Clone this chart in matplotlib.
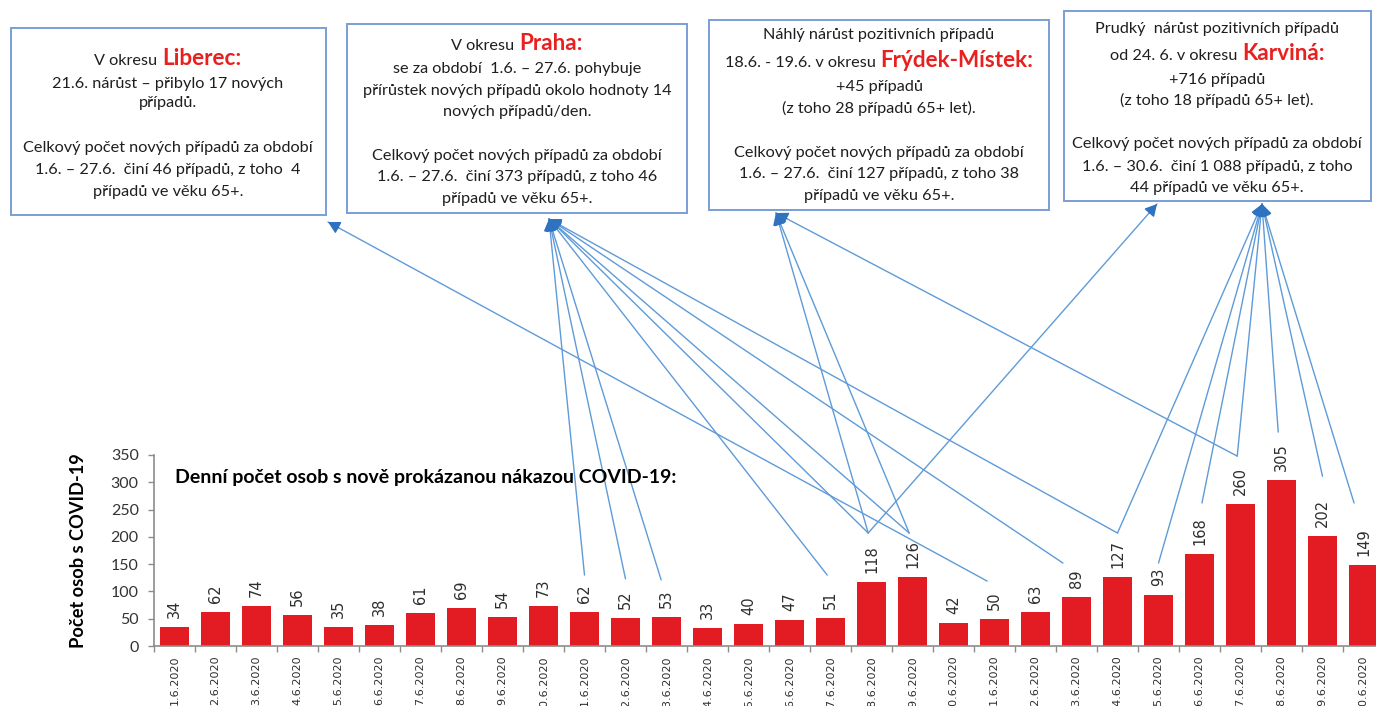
import matplotlib
matplotlib.use("Agg")
import matplotlib.pyplot as plt
import matplotlib.transforms as mtransforms
from matplotlib.patches import Rectangle
import numpy as np

# ---------------------------------------------------------------- data
days = ["1.6.2020", "2.6.2020", "3.6.2020", "4.6.2020", "5.6.2020", "6.6.2020",
        "7.6.2020", "8.6.2020", "9.6.2020", "10.6.2020", "11.6.2020", "12.6.2020",
        "13.6.2020", "14.6.2020", "15.6.2020", "16.6.2020", "17.6.2020", "18.6.2020",
        "19.6.2020", "20.6.2020", "21.6.2020", "22.6.2020", "23.6.2020", "24.6.2020",
        "25.6.2020", "26.6.2020", "27.6.2020", "28.6.2020", "29.6.2020", "30.6.2020"]
cases = [34, 62, 74, 56, 35, 38, 61, 69, 54, 73, 62, 52, 53, 33, 40,
         47, 51, 118, 126, 42, 50, 63, 89, 127, 93, 168, 260, 305, 202, 149]
y_ticks = [0, 50, 100, 150, 200, 250, 300, 350]

title = "Denní počet osob s nově prokázanou nákazou COVID-19:"
y_label = "Počet osob s COVID-19"

# district callouts: list of lines, each line a list of (text, is_district)
liberec_lines = [
    [("V okresu", False), ("Liberec:", True)],
    [("21.6. nárůst – přibylo 17 nových", False)],
    [("případů.", False)],
    [("Celkový počet nových případů za období", False)],
    [("1.6. – 27.6.  činí 46 případů, z toho  4", False)],
    [("případů ve věku 65+.", False)],
]
praha_lines = [
    [("V okresu", False), ("Praha:", True)],
    [("se za období  1.6. – 27.6. pohybuje", False)],
    [("přírůstek nových případů okolo hodnoty 14", False)],
    [("nových případů/den.", False)],
    [("Celkový počet nových případů za období", False)],
    [("1.6. – 27.6.  činí 373 případů, z toho 46", False)],
    [("případů ve věku 65+.", False)],
]
frydek_lines = [
    [("Náhlý nárůst pozitivních případů", False)],
    [("18.6. - 19.6. v okresu", False), ("Frýdek-Místek:", True)],
    [("+45 případů", False)],
    [("(z toho 28 případů 65+ let).", False)],
    [("Celkový počet nových případů za období", False)],
    [("1.6. – 27.6.  činí 127 případů, z toho 38", False)],
    [("případů ve věku 65+.", False)],
]
karvina_lines = [
    [("Prudký  nárůst pozitivních případů", False)],
    [("od 24. 6. v okresu", False), ("Karviná:", True)],
    [("+716 případů", False)],
    [("(z toho 18 případů 65+ let).", False)],
    [("Celkový počet nových případů za období", False)],
    [("1.6. – 30.6.  činí 1 088 případů, z toho", False)],
    [("44 případů ve věku 65+.", False)],
]

# which days each callout points at
links = {
    "liberec": ["21.6.2020"],
    "praha": ["11.6.2020", "12.6.2020", "13.6.2020", "17.6.2020",
              "18.6.2020", "19.6.2020", "23.6.2020", "24.6.2020"],
    "frydek": ["18.6.2020", "19.6.2020", "27.6.2020"],
    "karvina_left": ["18.6.2020"],
    "karvina": ["24.6.2020", "25.6.2020", "26.6.2020", "27.6.2020",
                "28.6.2020", "29.6.2020", "30.6.2020"],
}

# ---------------------------------------------------------------- layout
W, H = 1376, 706
fig = plt.figure(figsize=(W / 100, H / 100), dpi=100)
fig.patch.set_facecolor("white")
# pixel coordinates measured from the top-left corner
px = mtransforms.Affine2D().scale(1 / W, -1 / H).translate(0, 1) + fig.transFigure
renderer = fig.canvas.get_renderer()

BAR_RED = "#E31B23"
LINE_BLUE = "#5E9BD8"
HEAD_BLUE = "#2F73C0"
BOX_BLUE = "#7B9ED8"
TEXT_DARK = "#1E1E1E"

ax_left, ax_bottom_px, ax_top_px, slot = 154, 646, 455, 41
ax = fig.add_axes([ax_left / W, (H - ax_bottom_px) / H,
                   len(days) * slot / W, (ax_bottom_px - ax_top_px) / H])
ax.set_facecolor("none")


def fit_size(text, target, **kw):
    t = fig.text(0, 0, text, fontsize=10, **kw)
    w = t.get_window_extent(renderer).width
    t.remove()
    return 10 * target / w


x = np.arange(len(days))
ax.bar(x, cases, width=0.72, color=BAR_RED, zorder=2)
for i, v in enumerate(cases):
    ax.annotate(str(v), (i, v), xytext=(0, 6.5), textcoords="offset points",
                rotation=90, ha="center", va="bottom", fontsize=10.5,
                family="DejaVu Sans", color="#2E2E2E")

ax.set_xlim(-0.5, len(days) - 0.5)
ax.set_ylim(0, 350)
ax.set_xticks(x, days, rotation=90, fontsize=8, color="#2E2E2E")
ax.set_xticks(np.arange(-0.5, len(days), 1), minor=True)
ax.tick_params(axis="x", which="major", length=0, pad=7)
ax.tick_params(axis="x", which="minor", length=4, color="#8C8C8C", width=1)
ax.set_yticks(y_ticks)
ax.tick_params(axis="y", length=4, color="#8C8C8C", width=1, pad=7,
               labelsize=11.5, labelcolor="#333333")
for lab in ax.get_yticklabels():
    lab.set_family("Lato")
for side in ("top", "right"):
    ax.spines[side].set_visible(False)
for side in ("left", "bottom"):
    ax.spines[side].set_color("#8C8C8C")
    ax.spines[side].set_linewidth(1.2)

title_size = fit_size(title, 500, family="Lato", weight="bold")
fig.text(175, 477, title, transform=px, ha="left", va="center",
         fontsize=title_size, family="Lato", weight="bold", color="black")
ylab_size = fit_size(y_label, 194, family="Lato", weight="bold")
fig.text(79, 551, y_label, transform=px, ha="center", va="center",
         rotation=90, fontsize=ylab_size, family="Lato", weight="bold",
         color="black")

# ---------------------------------------------------------------- callouts
body_size = fit_size("Celkový počet nových případů za období", 292, family="Lato")
name_size = fit_size("Frýdek-Místek:", 154, family="Lato", weight="bold")
body_style = dict(family="Lato", fontsize=body_size, color=TEXT_DARK)
name_style = dict(family="Lato", fontsize=name_size, weight="bold", color="#E8201F")


def draw_line(cx, cy, parts):
    arts = []
    for txt, is_name in parts:
        st = name_style if is_name else body_style
        arts.append(fig.text(0, 0, txt, transform=px, ha="left", va="baseline",
                             zorder=6, **st))
    widths = [a.get_window_extent(renderer).width for a in arts]
    gap = 5
    total = sum(widths) + gap * (len(arts) - 1)
    xpos = cx - total / 2
    for a, w in zip(arts, widths):
        a.set_position((xpos, cy + 5))
        xpos += w + gap


def draw_box(x0, y0, x1, y1, cx, rows, lines):
    fig.add_artist(Rectangle((x0, y0), x1 - x0, y1 - y0, transform=px,
                             facecolor="white", edgecolor=BOX_BLUE, lw=1.4,
                             zorder=5))
    for cy, parts in zip(rows, lines):
        draw_line(cx, cy, parts)


draw_box(11, 28, 326, 215, 168, [60, 83, 102, 147, 169, 191], liberec_lines)
draw_box(347, 24, 687, 213, 517, [45, 68.5, 90.5, 111, 155, 176.5, 197.5], praha_lines)
draw_box(709, 20, 1049, 210, 879, [34, 62, 86, 107.5, 152, 173, 195], frydek_lines)
draw_box(1064, 11, 1371, 201, 1217, [28, 55, 79, 100, 143, 165.5, 187], karvina_lines)

# arrow heads sit on the lower edges of the callouts
anchors = {"liberec": (328, 222), "praha": (549, 219), "frydek": (776, 213),
           "karvina_left": (1157, 204), "karvina": (1262, 204)}
# where each connector leaves a day: (horizontal shift in slots, height in data units)
tails = {"11.6.2020": (0.0, 130), "12.6.2020": (0.0, 123), "13.6.2020": (-0.13, 121),
         "17.6.2020": (-0.08, 130), "18.6.2020": (-0.08, 207), "19.6.2020": (-0.08, 207),
         "21.6.2020": (-0.18, 119), "23.6.2020": (-0.33, 152), "24.6.2020": (0.0, 207),
         "25.6.2020": (0.0, 152), "26.6.2020": (0.06, 262), "27.6.2020": (-0.08, 348),
         "28.6.2020": (-0.08, 392), "29.6.2020": (0.0, 311), "30.6.2020": (-0.23, 262)}

for box, targets in links.items():
    head = np.array(anchors[box], dtype=float)
    for d in targets:
        i = days.index(d)
        dx, ty = tails[d]
        # connector line from the day to the callout
        ax.annotate("", xy=tuple(head), xycoords=px, xytext=(i + dx, ty),
                    textcoords="data", annotation_clip=False,
                    arrowprops=dict(arrowstyle="-", color=LINE_BLUE, lw=1.0,
                                    shrinkA=0, shrinkB=0), zorder=7)
        # darker arrow head on top of the last few pixels
        tx, tyd = ax.transData.transform((i + dx, ty))
        tail_px = np.array([tx, H - tyd])
        u = (tail_px - head) / np.hypot(*(tail_px - head))
        start = head + 12 * u
        ax.annotate("", xy=tuple(head), xycoords=px, xytext=tuple(start),
                    textcoords=px, annotation_clip=False,
                    arrowprops=dict(arrowstyle="-|>,head_length=0.55,head_width=0.3",
                                    color=HEAD_BLUE, lw=1.0, shrinkA=0, shrinkB=0,
                                    mutation_scale=13), zorder=8)

fig.savefig("out.png", dpi=100, facecolor="white")
